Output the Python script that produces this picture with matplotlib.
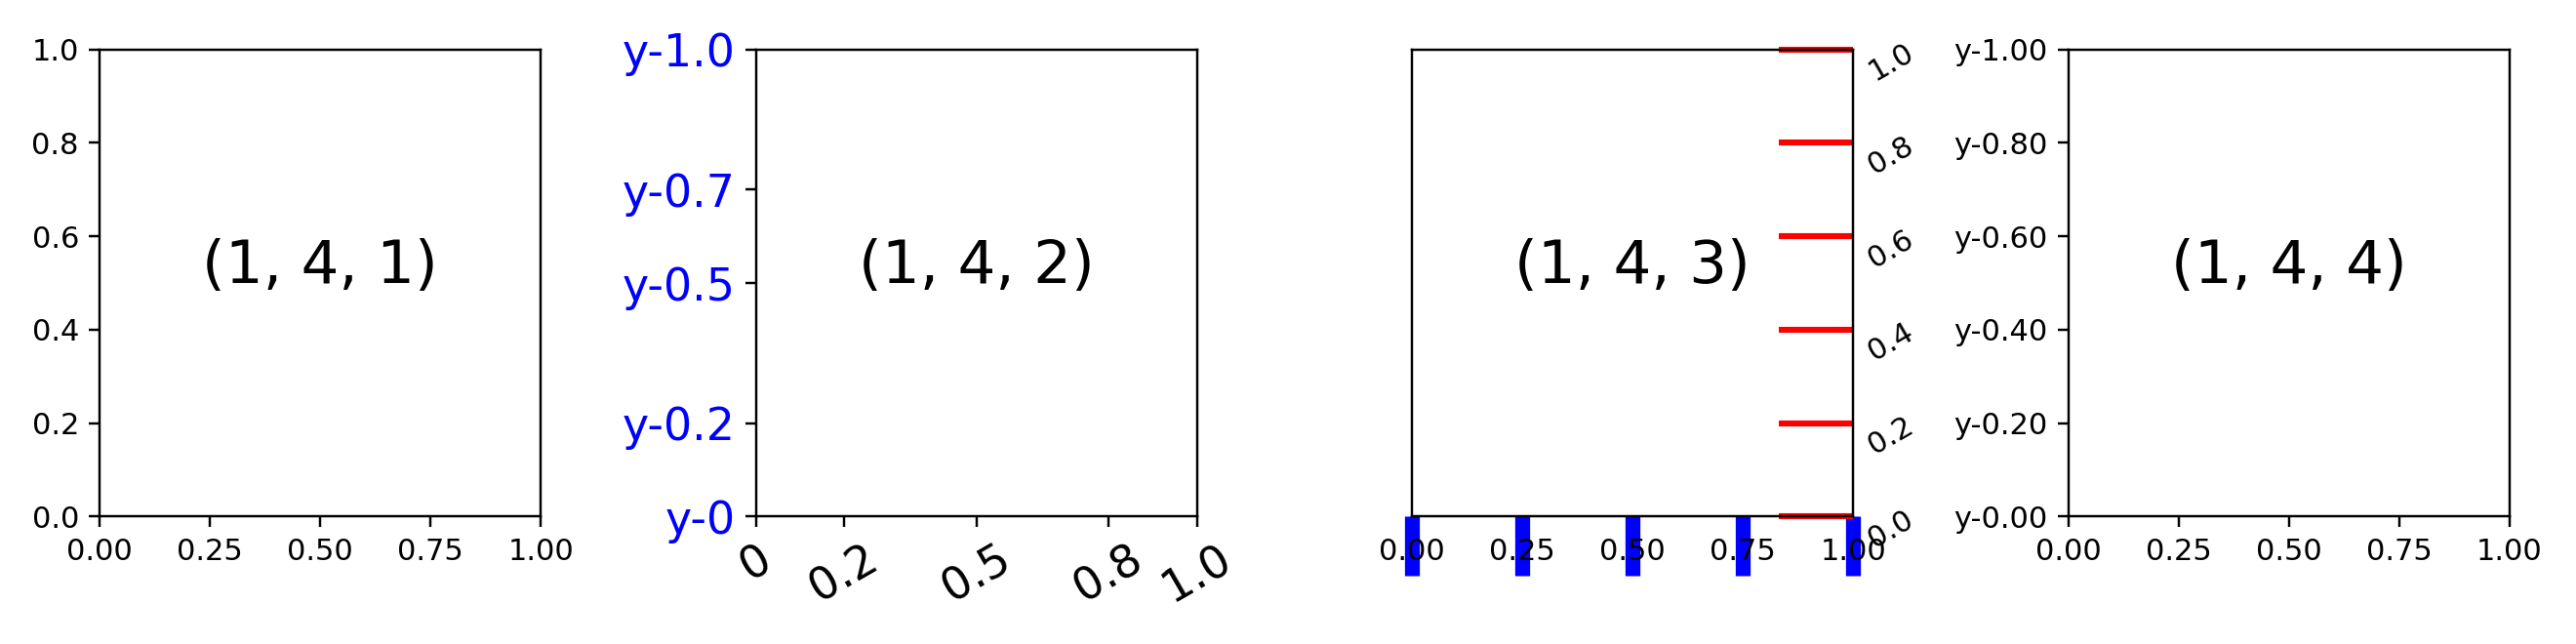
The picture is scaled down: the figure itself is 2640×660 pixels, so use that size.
import matplotlib
matplotlib.use("Agg")
import matplotlib.pyplot as plt
from matplotlib.ticker import StrMethodFormatter

# ---- data ----
panel_titles = ["(1, 4, 1)", "(1, 4, 2)", "(1, 4, 3)", "(1, 4, 4)"]
ax2_xticks = [0, 0.2, 0.5, 0.8, 1.0]
ax2_xlabels = ["0", "0.2", "0.5", "0.8", "1.0"]
ax2_yticks = [0, 0.2, 0.5, 0.7, 1.0]
ax2_ylabels = ["y-0", "y-0.2", "y-0.5", "y-0.7", "y-1.0"]
ax4_format = "y-{x:.2f}"

fig, axs = plt.subplots(1, 4, figsize=(12, 3), dpi=220)
fig.subplots_adjust(left=0.03875, right=0.97413, bottom=0.19803,
                    top=0.92318, wspace=0.4884)

for ax, title in zip(axs, panel_titles):
    ax.set_xlim(0, 1)
    ax.set_ylim(0, 1)
    ax.text(0.5, 0.5, title, transform=ax.transAxes, ha="center",
            fontsize=20)

# panel 2: custom ticks and labels
ax2 = axs[1]
ax2.set_xticks(ax2_xticks, ax2_xlabels, rotation=30, fontsize=15)
ax2.set_yticks(ax2_yticks, ax2_ylabels, color="blue", fontsize=15)

# panel 3: tick_params styling
ax3 = axs[2]
ax3.tick_params(axis="y", left=False, labelleft=False, right=True,
                labelright=True, direction="in", length=25, width=2,
                color="red", labelrotation=30)
ax3.tick_params(axis="x", length=20, width=5, color="blue", pad=-13)

# panel 4: formatter
ax4 = axs[3]
ax4.yaxis.set_major_formatter(StrMethodFormatter(ax4_format))

fig.savefig("out.png", dpi=220)
